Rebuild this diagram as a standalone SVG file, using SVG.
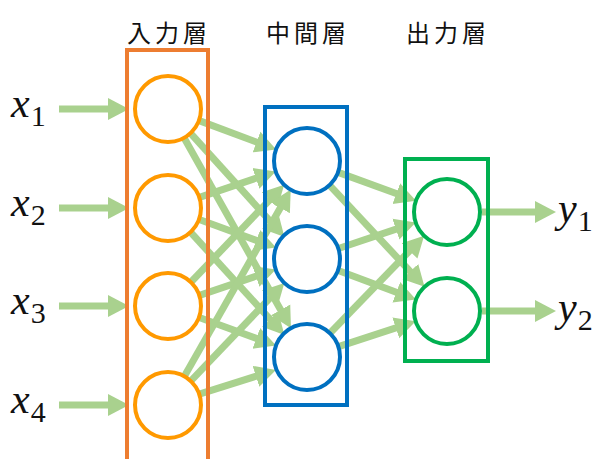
<svg xmlns="http://www.w3.org/2000/svg" width="603" height="459" viewBox="0 0 603 459">
<style>
.conn line{stroke:#A9D18E;stroke-width:7;fill:none;marker-end:url(#ah)}
.ttl{font-family:"Noto Sans CJK JP","Noto Sans CJK SC",sans-serif;font-size:24px;fill:#111;text-anchor:middle;letter-spacing:4px}
.math{font-family:"Liberation Serif","DejaVu Serif",serif;fill:#111}
.var{font-style:italic;font-size:42px}
.sub{font-size:30px}
.inC{fill:#fff;stroke:#FF9900;stroke-width:4}
.hidC{fill:#fff;stroke:#0070C0;stroke-width:4}
.outC{fill:#fff;stroke:#00B050;stroke-width:4}
</style>
<defs>
<marker id="ah" markerUnits="userSpaceOnUse" markerWidth="22" markerHeight="24" refX="5" refY="12" orient="auto">
<path d="M0,1 L21,12 L0,23 z" fill="#A9D18E"/>
</marker>
</defs>
<rect width="603" height="459" fill="#fff"/>
<g id="connectors" class="conn">
<line x1="59" y1="109" x2="113" y2="109"/>
<line x1="59" y1="208" x2="113" y2="208"/>
<line x1="59" y1="306" x2="113" y2="306"/>
<line x1="59" y1="405" x2="113" y2="405"/>
<line x1="199.8" y1="120.9" x2="261.2" y2="143.8"/>
<line x1="191.1" y1="133.9" x2="273.7" y2="225.1"/>
<line x1="184.6" y1="138.7" x2="283.1" y2="314.2"/>
<line x1="200.2" y1="197.1" x2="260.6" y2="176.7"/>
<line x1="199.9" y1="219.7" x2="261.0" y2="242.1"/>
<line x1="191.2" y1="232.9" x2="273.6" y2="323.1"/>
<line x1="191.5" y1="281.5" x2="273.1" y2="196.3"/>
<line x1="200.2" y1="295.1" x2="260.6" y2="274.7"/>
<line x1="199.9" y1="317.7" x2="261.0" y2="340.1"/>
<line x1="184.8" y1="375.5" x2="282.8" y2="203.5"/>
<line x1="191.4" y1="380.4" x2="273.3" y2="294.5"/>
<line x1="200.1" y1="393.9" x2="260.7" y2="374.8"/>
<line x1="338.9" y1="172.6" x2="401.0" y2="195.3"/>
<line x1="330.2" y1="185.9" x2="413.6" y2="275.1"/>
<line x1="339.2" y1="248.2" x2="400.6" y2="227.6"/>
<line x1="338.9" y1="270.8" x2="401.0" y2="294.0"/>
<line x1="330.6" y1="332.5" x2="413.0" y2="247.3"/>
<line x1="339.3" y1="346.4" x2="400.5" y2="326.3"/>
<line x1="482" y1="212" x2="540" y2="212"/>
<line x1="482" y1="311" x2="540" y2="311"/>
</g>
<g id="input-layer">
<rect x="127" y="50" width="81" height="420" fill="none" stroke="#ED7D31" stroke-width="4"/>
<text class="ttl" x="169" y="42">入力層</text>
</g>
<g id="in1"><circle class="inC" cx="168" cy="109" r="33"/></g>
<g id="in2"><circle class="inC" cx="168" cy="208" r="33"/></g>
<g id="in3"><circle class="inC" cx="168" cy="306" r="33"/></g>
<g id="in4"><circle class="inC" cx="168" cy="405" r="33"/></g>
<g id="hidden-layer">
<rect x="265" y="107" width="82" height="298" fill="none" stroke="#0070C0" stroke-width="4"/>
<text class="ttl" x="308" y="42">中間層</text>
</g>
<g id="h1"><circle class="hidC" cx="307" cy="161" r="33"/></g>
<g id="h2"><circle class="hidC" cx="307" cy="259" r="33"/></g>
<g id="h3"><circle class="hidC" cx="307" cy="357" r="33"/></g>
<g id="output-layer">
<rect x="405" y="159" width="83" height="202" fill="none" stroke="#00B050" stroke-width="4"/>
<text class="ttl" x="448" y="42">出力層</text>
</g>
<g id="o1"><circle class="outC" cx="447" cy="212" r="33"/></g>
<g id="o2"><circle class="outC" cx="447" cy="311" r="33"/></g>
<g id="labels" class="math">
<text x="11" y="117"><tspan class="var">x</tspan><tspan class="sub" dx="1" dy="9">1</tspan></text>
<text x="11" y="216"><tspan class="var">x</tspan><tspan class="sub" dx="1" dy="9">2</tspan></text>
<text x="11" y="314"><tspan class="var">x</tspan><tspan class="sub" dx="1" dy="9">3</tspan></text>
<text x="11" y="413"><tspan class="var">x</tspan><tspan class="sub" dx="1" dy="9">4</tspan></text>
<text x="558" y="222"><tspan class="var">y</tspan><tspan class="sub" dx="1" dy="9">1</tspan></text>
<text x="558" y="321"><tspan class="var">y</tspan><tspan class="sub" dx="1" dy="9">2</tspan></text>
</g>
</svg>
